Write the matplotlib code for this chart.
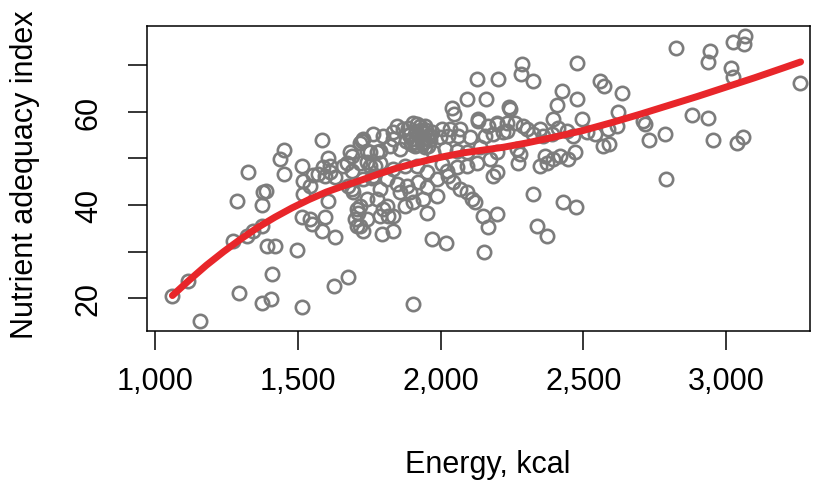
import matplotlib.pyplot as plt

# Energy (kcal) and nutrient adequacy index
energy = [1061, 1117, 1158, 1294, 1376, 1406, 1516, 1409, 1628, 1677,
          1274, 1391, 1420, 1499, 1288, 1327, 1374, 1380, 1389, 1321,
          1344, 1374, 1438, 1452, 1452, 1516, 1520, 1520, 1514, 1584,
          1555, 1572, 1595, 1613, 1607, 1613, 1607, 1595, 1549, 1584,
          1631, 1683, 1689, 1671, 1657, 1695, 1689, 1712, 1706, 1700,
          1724, 1753,
          1543, 1630, 1590, 1543, 1676, 1690, 1777, 1741, 1771, 1760,
          1706, 1800, 1817, 1834,
          2284, 2281, 2323, 2129, 2200, 2479, 2424, 2479, 2407, 2092,
          2159, 2241, 2243, 2039, 2048, 2494,
          1846, 1870, 1916, 1946, 2004, 2033, 2068, 2132, 2167, 2197,
          2232, 2261, 2290, 2302, 2348, 2395, 2413, 2442,
          1730, 1765, 1800, 1835, 1893, 1922, 1934, 1963, 1998, 2027,
          2062, 2103, 2156, 2185, 2220, 2325, 2360, 2389, 2465, 2512,
          1718, 1741, 1788, 1823, 1858, 1911, 1946, 1975, 2016, 2057,
          2092, 2138, 2197, 2267, 2278, 2366, 2395, 2418, 2448, 2471,
          1718, 1753, 1788, 1835, 1876, 1916, 1951, 2004, 2022, 2057,
          2092, 2127, 2173, 2197, 2185, 2273, 2348, 2372,
          1730, 1765, 1811, 1846, 1881, 1922, 1951, 1987, 2027, 2045,
          2068, 2092, 1858, 1893, 1788,
          1718, 1741, 1776, 1811, 1835, 1788, 1741, 1876, 1905, 1940,
          1987, 1951, 2109, 2121, 2150, 2197, 2167, 2325, 2430, 2475,
          1718, 1730, 1794, 1835, 1969, 2019, 2152, 2337, 2372, 1905,
          1910, 1925, 1935, 1915, 1945, 1900, 1930,
          1885, 1895, 1905, 1918, 1928, 1940, 1950, 1962, 1890, 1955,
          1970, 1880, 2131, 2197, 2232,
          2559, 2573, 2635, 2623, 2617, 2588, 2541, 2570, 2591, 2710,
          2716, 2731, 2786, 2790, 2824, 2882, 2936, 2956, 2944, 2938,
          3016, 3026, 3023, 3066, 3063, 3037, 3061, 3259]
nai = [20.6, 23.8, 15.2, 21.1, 18.9, 19.9, 18.1, 25.2, 22.7, 24.6,
       32.4, 31.3, 31.3, 30.4, 40.9, 47.2, 40.0, 42.7, 43.1, 33.4,
       34.5, 35.6, 49.9, 51.9, 46.6, 48.4, 45.2, 42.4, 37.4, 54.0,
       46.4, 46.6, 46.3, 47.0, 50.2, 48.4, 40.9, 37.4, 35.9, 34.5,
       33.1, 51.3, 50.6, 49.1, 48.4, 42.7, 43.4, 38.4, 35.6, 37.0,
       53.8, 51.4,
       44.1, 46.0, 48.1, 37.0, 44.1, 47.3, 51.4, 49.2, 48.4, 45.8,
       39.1, 39.1, 37.7, 55.6,
       70.2, 68.1, 66.6, 67.1, 67.1, 70.4, 64.5, 62.7, 61.4, 62.7,
       62.7, 61.1, 60.7, 60.9, 59.5, 58.4,
       57.0, 56.3, 57.4, 57.0, 56.3, 56.3, 56.3, 58.4, 57.0, 57.4,
       55.9, 57.7, 57.0, 56.3, 56.3, 58.4, 56.6, 55.9,
       54.1, 55.2, 54.9, 54.1, 55.2, 55.2, 54.1, 54.9, 54.5, 54.9,
       54.9, 54.5, 54.9, 55.2, 55.6, 55.2, 54.9, 55.2, 54.9, 55.6,
       53.4, 51.6, 51.6, 52.7, 52.0, 52.7, 52.4, 51.3, 52.0, 51.6,
       51.3, 52.4, 51.3, 52.0, 50.9, 50.6, 49.9, 50.6, 49.9, 51.3,
       49.1, 48.4, 49.1, 47.7, 48.4, 48.4, 47.0, 48.8, 47.4, 48.1,
       48.4, 49.1, 49.9, 47.0, 46.3, 49.1, 48.4, 49.1,
       45.6, 46.3, 45.6, 44.5, 44.1, 44.9, 43.8, 45.6, 46.3, 44.9,
       43.4, 42.7, 42.7, 42.7, 43.4,
       39.9, 41.3, 41.3, 39.9, 37.7, 37.7, 37.0, 39.9, 40.6, 41.3,
       42.0, 38.4, 41.3, 40.6, 37.7, 38.1, 35.2, 42.4, 40.6, 39.5,
       35.6, 34.5, 33.8, 34.5, 32.7, 31.9, 29.9, 35.6, 33.4, 18.8,
       53.5, 54.8, 53.0, 55.8, 55.5, 54.2, 56.2,
       56.5, 53.2, 57.6, 52.8, 57.0, 53.6, 56.0, 54.0, 55.0, 52.6,
       55.6, 53.8, 58.1, 57.7, 57.7,
       66.6, 65.6, 64.0, 59.9, 57.0, 56.3, 55.2, 52.7, 53.1, 58.1,
       57.4, 54.0, 55.2, 45.6, 73.6, 59.3, 58.6, 54.0, 73.1, 70.6,
       69.5, 67.4, 75.0, 76.3, 74.5, 53.3, 54.5, 66.2]

# smoothed fit (red curve)
fit_energy = [1061, 1120, 1180, 1240, 1300, 1360, 1420, 1480, 1540, 1600,
              1660, 1720, 1780, 1840, 1900, 1960, 2020, 2080, 2150, 2220,
              2300, 2400, 2500, 2600, 2700, 2800, 2900, 3000, 3100, 3200,
              3261]
fit_nai = [20.6, 23.9, 27.1, 30.0, 32.7, 35.2, 37.4, 39.4, 41.2, 42.8,
           44.1, 45.3, 46.6, 47.8, 48.8, 49.7, 50.5, 51.2, 51.8, 52.4,
           53.3, 54.6, 56.0, 57.7, 59.5, 61.4, 63.3, 65.3, 67.3, 69.4,
           70.7]

xticks = [1000, 1500, 2000, 2500, 3000]
xticklabels = ['1,000', '1,500', '2,000', '2,500', '3,000']
yticks = [20, 30, 40, 50, 60, 70]
yticklabels = ['20', '', '40', '', '60', '']

plt.rcParams['font.family'] = ['Liberation Sans', 'DejaVu Sans']

fig = plt.figure(figsize=(8.25, 4.85), dpi=100)
ax = fig.add_axes([147 / 825, 1 - 332 / 485, 663 / 825, 305 / 485])

ax.plot(energy, nai, 'o', ls='none', mfc='none', mec='#7c7c7c', ms=9.6, mew=1.9)
ax.plot(fit_energy, fit_nai, color='#e8262a', lw=5, solid_capstyle='round',
        solid_joinstyle='round')

ax.set_xlim(972, 3294)
ax.set_ylim(13.0, 78.4)

ax.set_xticks(xticks)
ax.set_xticklabels(xticklabels)
ax.set_yticks(yticks)
ax.set_yticklabels(yticklabels, rotation=90, va='center')
ax.tick_params(axis='both', direction='out', length=14, width=1.1, labelsize=22)
ax.tick_params(axis='x', pad=11)
ax.tick_params(axis='y', pad=17)
for sp in ax.spines.values():
    sp.set_linewidth(1.1)

fig.text(488 / 825, 1 - 465 / 485, 'Energy, kcal', ha='center', va='center', fontsize=22)
fig.text(25 / 825, 1 - 175 / 485, 'Nutrient adequacy index', ha='center', va='center',
         rotation=90, fontsize=22)

fig.savefig('out.png', dpi=100)
